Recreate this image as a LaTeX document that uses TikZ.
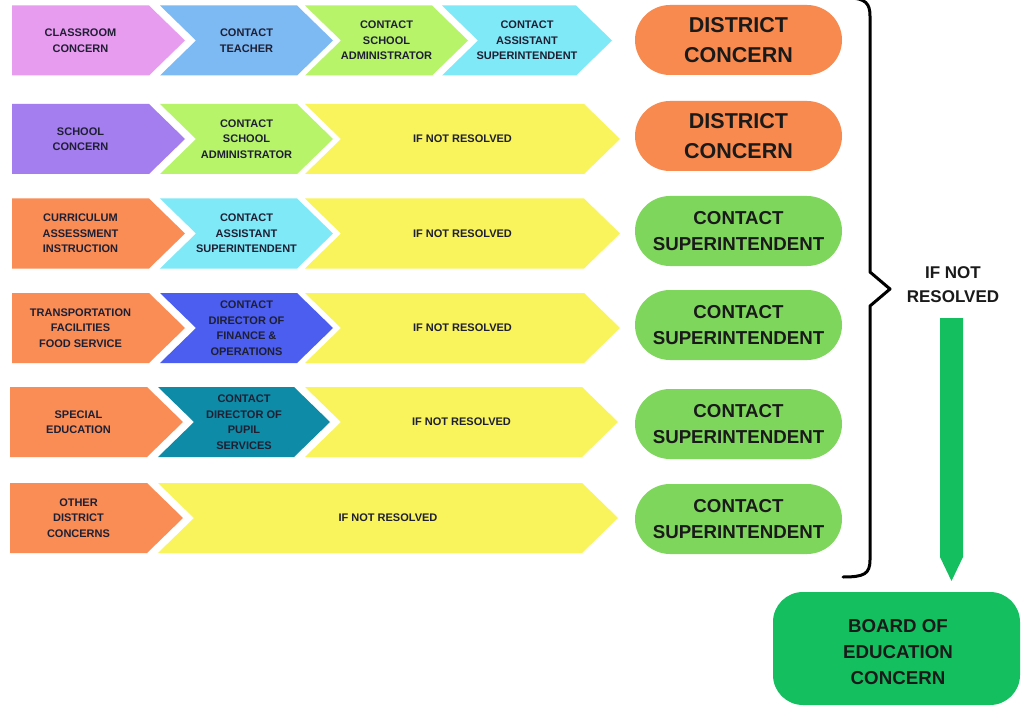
\documentclass[tikz,border=0pt]{standalone}
\usepackage{fontspec}
\setmainfont{Liberation Sans}
\definecolor{cpink}{HTML}{E89CF0}
\definecolor{cblue}{HTML}{7DB9F3}
\definecolor{clime}{HTML}{B8F46A}
\definecolor{ccyan}{HTML}{80E9F8}
\definecolor{cpurple}{HTML}{A47DEF}
\definecolor{corange}{HTML}{F98D55}
\definecolor{cyellow}{HTML}{F9F45C}
\definecolor{croyal}{HTML}{4B5EF0}
\definecolor{cteal}{HTML}{0E8BA6}
\definecolor{porange}{HTML}{F88A4F}
\definecolor{pgreen}{HTML}{7ED65C}
\definecolor{bgreen}{HTML}{14BF5F}
\definecolor{ctxt}{HTML}{1F1F33}
\definecolor{ptxt}{HTML}{1A1A1A}
\tikzset{
  ctext/.style={font=\fontsize{11}{15.5}\selectfont\bfseries, align=center, text=ctxt, inner sep=0pt},
  pill/.style={rounded corners=35pt, minimum width=207pt, minimum height=70pt, inner sep=0pt, align=center, text=ptxt},
  distfont/.style={font=\fontsize{21.5}{30}\selectfont\bfseries},
  supfont/.style={font=\fontsize{18.7}{26}\selectfont\bfseries},
  bracestyle/.style={line width=3pt, black, line join=round, line cap=round}
}
% flat-left chevron: name, x0, tip, yc, colour, text
\newcommand\chevL[6]{%
  \fill[#5] (#2,#4-35) -- (#3-36,#4-35) -- (#3,#4) -- (#3-36,#4+35) -- (#2,#4+35) -- cycle;
  \node[ctext] (#1) at ({(#2+#3-36)/2},#4) {#6};}
% notched chevron
\newcommand\chevN[6]{%
  \fill[#5] (#2,#4-35) -- (#3-36,#4-35) -- (#3,#4) -- (#3-36,#4+35) -- (#2,#4+35) -- (#2+36,#4) -- cycle;
  \node[ctext] (#1) at ({(#2+#3)/2},#4) {#6};}
\begin{document}
\begin{tikzpicture}[x=1pt,y=-1pt]
\useasboundingbox[fill=white] (0,0) rectangle (1021,706);
% row 1
\chevL{r1a}{12}{185}{40.5}{cpink}{CLASSROOM\\CONCERN}
\chevN{r1b}{160}{333}{40.5}{cblue}{CONTACT\\TEACHER}
\chevN{r1c}{305}{468}{40.5}{clime}{CONTACT\\SCHOOL\\ADMINISTRATOR}
\chevN{r1d}{442}{612}{40.5}{ccyan}{CONTACT\\ASSISTANT\\SUPERINTENDENT}
% row 2
\chevL{r2a}{12}{185}{139}{cpurple}{SCHOOL\\CONCERN}
\chevN{r2b}{160}{333}{139}{clime}{CONTACT\\SCHOOL\\ADMINISTRATOR}
\chevN{r2c}{305}{620}{139}{cyellow}{IF NOT RESOLVED}
% row 3
\chevL{r3a}{12}{185}{233.5}{corange}{CURRICULUM\\ASSESSMENT\\INSTRUCTION}
\chevN{r3b}{160}{333}{233.5}{ccyan}{CONTACT\\ASSISTANT\\SUPERINTENDENT}
\chevN{r3c}{305}{620}{233.5}{cyellow}{IF NOT RESOLVED}
% row 4
\chevL{r4a}{12}{185}{328}{corange}{TRANSPORTATION\\FACILITIES\\FOOD SERVICE}
\chevN{r4b}{160}{333}{328}{croyal}{CONTACT\\DIRECTOR OF\\FINANCE \&\\OPERATIONS}
\chevN{r4c}{305}{620}{328}{cyellow}{IF NOT RESOLVED}
% row 5
\chevL{r5a}{10}{183}{422}{corange}{SPECIAL\\EDUCATION}
\chevN{r5b}{158}{330}{422}{cteal}{CONTACT\\DIRECTOR OF\\PUPIL\\SERVICES}
\chevN{r5c}{305}{618}{422}{cyellow}{IF NOT RESOLVED}
% row 6
\chevL{r6a}{10}{183}{518}{corange}{OTHER\\DISTRICT\\CONCERNS}
\chevN{r6b}{158}{618}{518}{cyellow}{IF NOT RESOLVED}
% pills
\node[pill, distfont, fill=porange] (p1) at (738.5,40) {DISTRICT\\CONCERN};
\node[pill, distfont, fill=porange] (p2) at (738.5,136) {DISTRICT\\CONCERN};
\node[pill, supfont, fill=pgreen] (p3) at (738.5,231) {CONTACT\\SUPERINTENDENT};
\node[pill, supfont, fill=pgreen] (p4) at (738.5,325) {CONTACT\\SUPERINTENDENT};
\node[pill, supfont, fill=pgreen] (p5) at (738.5,424) {CONTACT\\SUPERINTENDENT};
\node[pill, supfont, fill=pgreen] (p6) at (738.5,519) {CONTACT\\SUPERINTENDENT};
% brace
\draw[bracestyle] (848,-2) .. controls (866,-2) and (870,4) .. (870,16)
  -- (870,272) -- (890,289) -- (870,306) -- (870,560)
  .. controls (870,574) and (864,577) .. (843,577);
\node[font=\fontsize{17}{24}\selectfont\bfseries, align=center, text=ptxt, inner sep=0pt] (lbl) at (953,285) {IF NOT\\RESOLVED};
% board
\node[rounded corners=30pt, minimum width=247pt, minimum height=113pt, inner sep=0pt, fill=bgreen] (board) at (896.5,648.5) {};
\node[font=\fontsize{18.7}{26}\selectfont\bfseries, align=center, text=ptxt, inner sep=0pt] (boardtext) at (898,652) {BOARD OF\\EDUCATION\\CONCERN};
% arrow
\coordinate (atop) at (951.5,318);
\fill[bgreen] (atop) ++(-11.5,0) -- ++(23,0) -- (963,557) -- (951.5,581) -- (940,557) -- cycle;
\end{tikzpicture}
\end{document}
